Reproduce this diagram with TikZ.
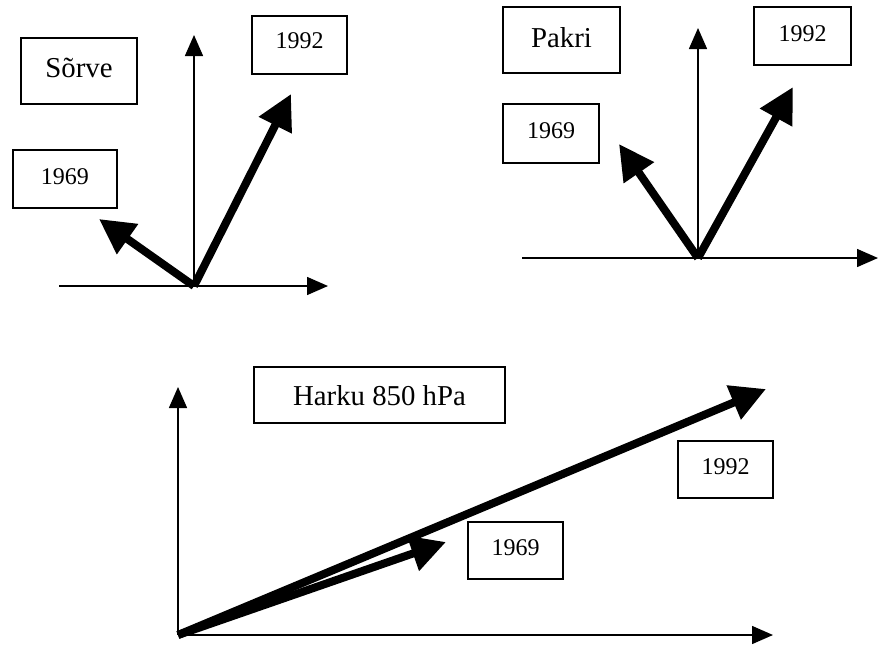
\documentclass[tikz,border=0pt]{standalone}
\usepackage{fontspec}
\setmainfont{Liberation Serif}
\usetikzlibrary{arrows.meta}
\begin{document}
\begin{tikzpicture}[x=1pt,y=-1pt,
  axis/.style={line width=1.5pt,-{Triangle[length=21pt,width=18pt]}},
  vec/.style={line width=8pt,-{Triangle[length=35pt,width=35pt]}},
  tag/.style={draw,line width=1.4pt,inner sep=0pt,text depth=0pt,
    font=\fontsize{24}{26}\selectfont},
  title/.style={tag,font=\fontsize{28.8}{32}\selectfont}]
\useasboundingbox (0,0) rectangle (879,646);

% ---- Sõrve ----
\node[title,minimum width=116pt,minimum height=66pt,text height=12pt] (sorve) at (79,71) {Sõrve};
\node[tag,minimum width=104pt,minimum height=58pt,text height=10pt] (y69a) at (65,179) {1969};
\node[tag,minimum width=95pt,minimum height=58pt,text height=6pt] (y92a) at (299.5,45) {1992};
\coordinate (o1) at (194,286);
\coordinate (xl1) at (59,286);
\coordinate (xe1) at (328,286);
\coordinate (ye1) at (194,35);
\coordinate (t69a) at (99,219);
\coordinate (t92a) at (291,94);
\draw[axis] (xl1) -- (xe1);
\draw[axis] (o1) -- (ye1);
\draw[vec] (o1) -- (t69a);
\draw[vec] (o1) -- (t92a);

% ---- Pakri ----
\node[title,minimum width=117pt,minimum height=66pt,text height=14pt] (pakri) at (561.5,40) {Pakri};
\node[tag,minimum width=96pt,minimum height=59pt,text height=9pt] (y69b) at (551,133.5) {1969};
\node[tag,minimum width=97pt,minimum height=58pt,text height=10pt] (y92b) at (802.5,36) {1992};
\coordinate (o2) at (698,258);
\coordinate (xl2) at (522,258);
\coordinate (xe2) at (878,258);
\coordinate (ye2) at (698,28);
\coordinate (t69b) at (619,144);
\coordinate (t92b) at (793,87);
\draw[axis] (xl2) -- (xe2);
\draw[axis] (o2) -- (ye2);
\draw[vec] (o2) -- (t69b);
\draw[vec] (o2) -- (t92b);

% ---- Harku 850 hPa ----
\node[title,minimum width=251pt,minimum height=56pt,text height=20pt] (harku) at (379.5,395) {Harku 850 hPa};
\node[tag,minimum width=95pt,minimum height=57pt,text height=9pt] (y92c) at (725.5,469.5) {1992};
\node[tag,minimum width=95pt,minimum height=57pt,text height=9pt] (y69c) at (515.5,550.5) {1969};
\coordinate (o3) at (178,635);
\coordinate (xe3) at (773,635);
\coordinate (ye3) at (178,387);
\coordinate (t69c) at (446,542);
\coordinate (t92c) at (766,389);
\draw[axis] (o3) -- (xe3);
\draw[axis] (o3) -- (ye3);
\draw[vec] (o3) -- (t69c);
\draw[vec] (o3) -- (t92c);
\end{tikzpicture}
\end{document}
